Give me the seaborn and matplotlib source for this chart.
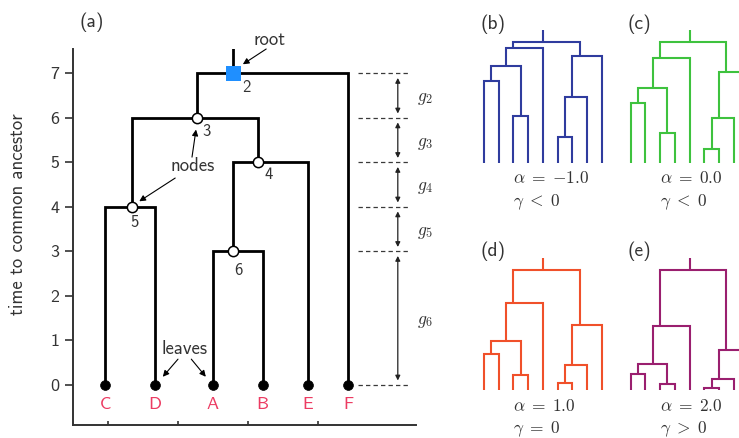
import matplotlib
matplotlib.use("Agg")
import matplotlib.pyplot as plt
import numpy as np
import pandas as pd
import seaborn as sns

# ---------------- panel (a): example genealogy ----------------
leaf_names = ["C", "D", "A", "B", "E", "F"]
leaf_x = [0.96, 1.67, 2.50, 3.21, 3.86, 4.43]
node_names = ["2", "3", "4", "5", "6"]
node_x = [2.79, 2.27, 3.14, 1.34, 2.79]
node_time = [7, 6, 5, 4, 3]
parent = {"C": "5", "D": "5", "A": "6", "B": "6", "E": "4", "F": "2",
          "5": "3", "6": "4", "4": "3", "3": "2"}
root_name = "2"
root_top = 7.9
x_ticks = [1, 2, 3, 4]
y_ticks = [0, 1, 2, 3, 4, 5, 6, 7]
gap_labels = ["$g_2$", "$g_3$", "$g_4$", "$g_5$", "$g_6$"]

# ---------------- panels (b)-(e): nine-leaf trees ----------------
n_small_leaves = 9
merge_left = [0, 2, 9, 11, 5, 13, 14, 12]
merge_right = [1, 3, 10, 4, 6, 7, 8, 15]
small_heights = {
    "b": [0.683, 0.389, 0.800, 0.953, 0.211, 0.550, 0.889, 1.0],
    "c": [0.496, 0.244, 0.622, 0.874, 0.118, 0.370, 0.751, 1.0],
    "d": [0.296, 0.126, 0.405, 0.726, 0.059, 0.204, 0.542, 1.0],
    "e": [0.137, 0.050, 0.215, 0.536, 0.020, 0.089, 0.335, 1.0],
}
small_alpha = {"b": "{-}\\mathsf{1.0}", "c": "\\mathsf{0.0}",
               "d": "\\mathsf{1.0}", "e": "\\mathsf{2.0}"}
small_gamma = {"b": "<", "c": "<", "d": "=", "e": ">"}
small_colors = {"b": "#2f3c9e", "c": "#3ec23e", "d": "#f0502a", "e": "#9a1f6f"}
small_stem_top = 1.10

# ---------------- style ----------------
sns.set_theme(style="ticks")
plt.rcParams["font.family"] = ["cmss10", "DejaVu Sans"]
plt.rcParams["mathtext.fontset"] = "cm"
plt.rcParams["axes.unicode_minus"] = False
plt.rcParams["axes.formatter.use_mathtext"] = False

W, H = 739, 438
fig = plt.figure(figsize=(W / 100, H / 100), dpi=100)


def px_axes(left, top, width, height):
    return fig.add_axes([left / W, 1 - (top + height) / H, width / W, height / H])


text_col = "#333333"
leaf_col = "#ec3b62"

# ---------------- main tree ----------------
ax = px_axes(73, 49, 343, 376)

pos = {n: (x, 0.0) for n, x in zip(leaf_names, leaf_x)}
pos.update({n: (x, t) for n, x, t in zip(node_names, node_x, node_time)})

rows = []
for k, (child, par) in enumerate(parent.items()):
    cx, cy = pos[child]
    px_, py_ = pos[par]
    for x, y in [(cx, cy), (cx, py_), (px_, py_)]:
        rows.append({"edge": k, "x": x, "y": y})
rx, ry = pos[root_name]
rows += [{"edge": -1, "x": rx, "y": ry}, {"edge": -1, "x": rx, "y": root_top}]
edges = pd.DataFrame(rows)

sns.lineplot(data=edges, x="x", y="y", units="edge", estimator=None, sort=False,
             color="black", lw=2.0, ax=ax, legend=False,
             solid_joinstyle="miter", solid_capstyle="butt")

leaves_df = pd.DataFrame({"x": leaf_x, "y": [0.0] * len(leaf_x)})
sns.scatterplot(data=leaves_df, x="x", y="y", color="black", s=50,
                edgecolor="black", linewidth=0.5, ax=ax, zorder=5)

inner = [n for n in node_names if n != root_name]
inner_df = pd.DataFrame({"x": [pos[n][0] for n in inner], "y": [pos[n][1] for n in inner]})
sns.scatterplot(data=inner_df, x="x", y="y", color="white", s=55,
                edgecolor="black", linewidth=1.1, ax=ax, zorder=5)

root_df = pd.DataFrame({"x": [rx], "y": [ry]})
sns.scatterplot(data=root_df, x="x", y="y", color="#1f8fff", marker="s", s=120,
                edgecolor="none", ax=ax, zorder=6)

# node numbers
label_offsets = {"2": (9.5, -10), "3": (7, -10), "4": (8, -9), "5": (2, -11), "6": (4, -14)}
for n in node_names:
    ax.annotate(n, pos[n], xytext=label_offsets[n], textcoords="offset points",
                ha="center", va="center", fontsize=12, color=text_col)

# leaf names
for n, x in zip(leaf_names, leaf_x):
    ax.text(x, -0.45, n, ha="center", va="center", fontsize=13, color=leaf_col)

# descriptive labels, each written once, with separate pointer arrows
arrow_kw = dict(arrowstyle="-|>", color="black", lw=0.8, mutation_scale=9,
                shrinkA=0, shrinkB=1)
callouts = [
    ("root", (3.31, 7.75), [((3.26, 7.55), (2.91, 7.19))]),
    ("nodes", (2.21, 4.92), [((2.20, 5.12), (2.26, 5.77)),
                              ((1.96, 4.65), (1.43, 4.11))]),
    ("leaves", (2.10, 0.81), [((2.00, 0.58), (1.77, 0.16)),
                               ((2.19, 0.58), (2.41, 0.16))]),
]
for word, where, arrows in callouts:
    ax.text(*where, word, ha="center", va="center", fontsize=13.5, color=text_col)
    for start, tip in arrows:
        ax.annotate("", xy=tip, xytext=start, arrowprops=arrow_kw)

# coalescence intervals
levels = sorted(node_time, reverse=True) + [0]
ax.hlines(levels, 4.57, 5.29, colors="#3a3a3a", lw=0.9, linestyles=(0, (3.5, 2.5)))
for hi, lo, lab in zip(levels[:-1], levels[1:], gap_labels):
    ax.annotate("", xy=(5.14, lo + 0.1), xytext=(5.14, hi - 0.1),
                arrowprops=dict(arrowstyle="<|-|>", color="#222222", lw=0.9,
                                mutation_scale=7, shrinkA=0, shrinkB=0))
    ax.text(5.41, (hi + lo) / 2 - 0.08, lab, ha="left", va="center",
            fontsize=12.5, color=text_col, clip_on=False)

ax.set_xlim(0.5, 5.4)
ax.set_ylim(-0.9, 7.55)
ax.set_xticks(x_ticks)
ax.set_xticklabels([])
ax.set_yticks(y_ticks)
ax.tick_params(axis="x", direction="in", length=3, width=1.2, color=text_col)
ax.tick_params(axis="y", direction="out", length=6, width=1.2, color=text_col,
               labelsize=13, labelcolor=text_col, pad=4)
sns.despine(ax=ax)
for side in ["left", "bottom"]:
    ax.spines[side].set_color(text_col)
    ax.spines[side].set_linewidth(1.4)
ax.set_xlabel("")
ax.set_ylabel("time to common ancestor", fontsize=13.5, color=text_col)
ax.yaxis.set_label_coords(-0.135, 0.56)
fig.text(92 / W, 1 - 22 / H, "(a)", ha="center", va="center", fontsize=14, color=text_col)

# ---------------- small trees ----------------
spacing = 14.7
yscale = 120.3
panel_origin = {"b": (484.0, 162.7), "c": (630.7, 162.7),
                "d": (484.0, 390.0), "e": (630.7, 390.0)}

for key, heights in small_heights.items():
    x0, y0 = panel_origin[key]
    sax = px_axes(x0 - 0.5 * spacing, y0 - 1.15 * yscale, 9 * spacing, 1.2 * yscale)
    members = {i: [i] for i in range(n_small_leaves)}
    xs = {i: float(i) for i in range(n_small_leaves)}
    ys = {i: 0.0 for i in range(n_small_leaves)}
    segs = []
    for j, (a, b, h) in enumerate(zip(merge_left, merge_right, heights)):
        node = n_small_leaves + j
        members[node] = members[a] + members[b]
        xs[node] = float(np.mean(members[node]))
        ys[node] = h
        for c in (a, b):
            for x, y in [(xs[c], ys[c]), (xs[c], h), (xs[node], h)]:
                segs.append({"edge": f"{c}", "x": x, "y": y})
    top = n_small_leaves + len(heights) - 1
    segs += [{"edge": "stem", "x": xs[top], "y": ys[top]},
             {"edge": "stem", "x": xs[top], "y": small_stem_top}]
    sdf = pd.DataFrame(segs)
    sns.lineplot(data=sdf, x="x", y="y", units="edge", estimator=None, sort=False,
                 color=small_colors[key], lw=1.5, ax=sax, legend=False,
                 solid_joinstyle="miter", solid_capstyle="butt")
    sax.set_xlim(-0.5, 8.5)
    sax.set_ylim(-0.05, 1.15)
    sax.set_axis_off()
    sax.text(0.6, 1.15, f"({key})", ha="center", va="center", fontsize=14, color=text_col)
    sax.text(2.0, -0.13, rf"$\alpha\;=\;{small_alpha[key]}$", ha="left", va="center",
             fontsize=12.5, color=text_col)
    sax.text(2.0, -0.33, rf"$\gamma\;{small_gamma[key]}\;\mathsf{{0}}$", ha="left",
             va="center", fontsize=12.5, color=text_col)

fig.savefig("out.png", dpi=100)
